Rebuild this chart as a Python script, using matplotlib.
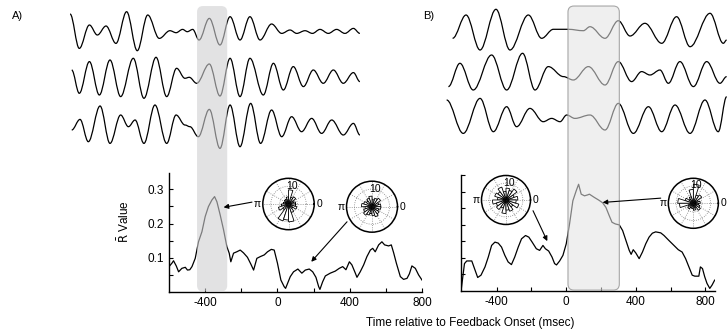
import numpy as np
import matplotlib
matplotlib.use('Agg')
import matplotlib.pyplot as plt
from matplotlib.path import Path
from matplotlib.patches import PathPatch, FancyBboxPatch, FancyArrowPatch
from matplotlib.transforms import IdentityTransform

plt.rcParams['font.family'] = ['Liberation Sans', 'DejaVu Sans']
plt.rcParams['axes.unicode_minus'] = False

# ---- R value curves (time re. feedback onset, ms) ----
time_a = [-600, -584, -575, -560, -547, -529, -510, -498, -485, -473, -455, -437, -418, -400,
          -382, -363, -348, -335, -317, -298, -280, -267, -258, -243, -225, -206, -188, -166,
          -147, -132, -114, -95, -73, -55, -34, -18, 0, 19, 37, 45, 71, 89, 113, 135, 154,
          176, 195, 213, 228, 235, 250, 265, 292, 320, 342, 361, 379, 398, 412, 431, 440, 458,
          477, 495, 514, 527, 541, 560, 578, 593, 615, 630, 643, 658, 680, 698, 717, 730, 744,
          763, 781, 800]
rval_a = [0.075, 0.085, 0.092, 0.077, 0.060, 0.070, 0.073, 0.065, 0.066, 0.075, 0.099, 0.147,
          0.176, 0.220, 0.249, 0.268, 0.278, 0.263, 0.225, 0.181, 0.133, 0.114, 0.089, 0.114,
          0.118, 0.123, 0.115, 0.102, 0.082, 0.065, 0.099, 0.104, 0.109, 0.118, 0.125, 0.123,
          0.085, 0.036, 0.017, 0.012, 0.046, 0.060, 0.068, 0.056, 0.065, 0.068, 0.060, 0.044,
          0.017, 0.009, 0.031, 0.048, 0.056, 0.062, 0.070, 0.075, 0.066, 0.089, 0.080, 0.056,
          0.044, 0.060, 0.080, 0.104, 0.123, 0.128, 0.118, 0.138, 0.147, 0.138, 0.135, 0.138,
          0.115, 0.085, 0.046, 0.038, 0.041, 0.054, 0.077, 0.070, 0.051, 0.036]

time_b = [-604, -585, -572, -543, -524, -509, -490, -467, -448, -429, -410, -391, -372, -353,
          -334, -315, -296, -276, -257, -234, -215, -196, -172, -153, -134, -120, -101, -82,
          -67, -56, -38, -19, 0, 19, 38, 57, 71, 86, 105, 124, 133, 162, 187, 209, 228, 247,
          263, 282, 305, 324, 343, 362, 373, 385, 400, 419, 438, 457, 476, 495, 514, 543, 562,
          590, 619, 644, 666, 686, 705, 724, 739, 762, 771, 783, 796, 809, 825, 838, 853]
rval_b = [0.002, 0.082, 0.090, 0.090, 0.062, 0.040, 0.047, 0.072, 0.102, 0.137, 0.147, 0.144,
          0.132, 0.107, 0.087, 0.079, 0.102, 0.132, 0.157, 0.167, 0.162, 0.147, 0.127, 0.122,
          0.137, 0.127, 0.120, 0.102, 0.082, 0.078, 0.090, 0.107, 0.142, 0.202, 0.272, 0.302,
          0.322, 0.292, 0.287, 0.290, 0.292, 0.282, 0.274, 0.266, 0.252, 0.227, 0.207, 0.202,
          0.199, 0.182, 0.152, 0.122, 0.110, 0.124, 0.114, 0.097, 0.117, 0.142, 0.162, 0.174,
          0.178, 0.175, 0.167, 0.152, 0.137, 0.124, 0.117, 0.097, 0.072, 0.047, 0.044, 0.044,
          0.072, 0.067, 0.042, 0.022, 0.007, 0.017, 0.032]

# highlighted windows (ms)
band_a = (-445, -278)
band_b = (10, 305)

# ---- example filtered traces: extrema times (ms) and amplitudes ----
trace_a1_t = [-1147, -1096, -1040, -996, -948, -893, -834, -775, -717, -653, -594, -560, -524,
              -498, -468, -433, -376, -317, -261, -206, -151, -95, -31, 25, 71, 108, 154, 195,
              237, 283, 329, 375, 422, 458]
trace_a1_v = [17.7, -16.7, 6.7, -3.3, 5.7, -11.7, 20, -19, 16.7, -6.7, 1, -1, 2.3, 0, 2.3,
              -8.3, 13.3, -13.3, 15, -8.3, 15, -8.3, 7.7, -1.7, 1.7, -1.7, 1, -1.7, 2.3, -1.7,
              2.3, -1.7, 3.3, -1.7]
trace_a2_t = [-1138, -1096, -1040, -985, -926, -867, -797, -738, -671, -612, -557, -511, -487,
              -446, -376, -317, -261, -206, -151, -77, -21, 34, 89, 145, 200, 255, 311, 366,
              422, 458]
trace_a2_v = [8.3, -15, 16.7, -16.7, 18.3, -18.3, 20, -20, 21, -18.3, 10, 0, 1, -5, 14.3,
              -17.7, 20, -18.3, 20, -16.7, 15, -11.7, 11.7, -8.3, 8.3, -5, 8.3, -5, 5.7, -3.3]
trace_a3_t = [-1138, -1092, -1046, -981, -926, -867, -824, -787, -738, -677, -612, -560, -511,
              -483, -437, -376, -317, -261, -206, -147, -92, -31, 25, 80, 135, 191, 246, 302,
              366, 422, 458]
trace_a3_v = [-3.3, 7.3, -15, 20.7, -16.7, 11.7, 0, 6.7, -16.7, 21.7, -16.7, 11.7, 1.7, 0,
              -10, 17.3, -21.7, 21.7, -20, 23.3, -16.7, 16.7, -10, 10, -5, 8.3, -6.7, 6.7,
              -8.3, 3.3, -8.3]

trace_b1_t = [-652, -575, -495, -404, -324, -219, -143, -76, 9, 95, 133, 219, 295, 362, 447,
              543, 628, 705, 819, 895, 914]
trace_b1_v = [-8.3, 15, -20, 20.7, -20, 15, -8.3, 0.7, 0.7, -0.7, 3.3, -8.3, 9.3, -6, 6.7,
              -13.3, 13.3, -16.7, 16.7, -13.3, -10]
trace_b2_t = [-676, -610, -534, -429, -343, -252, -181, -105, -19, 38, 124, 219, 295, 371,
              428, 476, 533, 581, 647, 724, 800, 876, 914]
trace_b2_v = [-13.3, 10, -16.7, 18.3, -16.7, 20, -16.7, 6.7, -3.3, -6.7, 6.7, -11.7, 11.7,
              -8.3, 1.7, -1.7, 3.3, -10, 11.7, -13.3, 11.7, -10, -3.3]
trace_b3_t = [-686, -591, -495, -419, -343, -286, -210, -134, -86, -38, 0, 47, 133, 219, 295,
              381, 467, 543, 619, 705, 790, 866, 914]
trace_b3_v = [16.7, -16.7, 18.3, -15, 10, -10, 8.3, -5, -1.7, -5, 1.7, -1.7, 1.7, -13.3,
              13.3, -16.7, 10, -15, 11.7, -16.7, 16.7, -15, 20]

# ---- phase distributions (rose plots, 20 bins) ----
rose_a1 = [4, 3, 5, 4, 8, 4, 3, 3, 2, 3, 4, 6, 4, 10, 9, 10, 5, 3, 5, 4]
rose_a2 = [5, 4, 6, 5, 4, 6, 5, 4, 5, 6, 4, 5, 6, 5, 4, 5, 6, 5, 4, 5]
rose_b1 = [7, 5, 8, 6, 7, 5, 8, 6, 7, 5, 8, 6, 7, 5, 8, 6, 7, 5, 8, 6]
rose_b2 = [4, 3, 6, 5, 11, 8, 4, 3, 5, 9, 8, 3, 4, 3, 3, 4, 3, 5, 4, 3]


def wave_path(t, v, offset):
    # smooth curve through the extrema (horizontal tangent at each one)
    verts = [(t[0], v[0] + offset)]
    codes = [Path.MOVETO]
    for i in range(len(t) - 1):
        dx = t[i + 1] - t[i]
        verts += [(t[i] + 0.36 * dx, v[i] + offset),
                  (t[i + 1] - 0.36 * dx, v[i + 1] + offset),
                  (t[i + 1], v[i + 1] + offset)]
        codes += [Path.CURVE4] * 3
    return Path(verts, codes)


fig = plt.figure(figsize=(7.27, 3.35), dpi=100)

# trace axes
sig_a = fig.add_axes([0.0825, 0.5224, 0.498, 0.4776])
sig_a.set_xlim(-1203, 802)
sig_b = fig.add_axes([0.6052, 0.5224, 0.3948, 0.4776])
sig_b.set_xlim(-724, 916)
for sax in (sig_a, sig_b):
    sax.set_ylim(-160, 0)
    sax.axis('off')

for t, v, off in [(trace_a1_t, trace_a1_v, -31.7), (trace_a2_t, trace_a2_v, -78.3),
                  (trace_a3_t, trace_a3_v, -126.7)]:
    sig_a.add_patch(PathPatch(wave_path(t, v, off), fill=False, lw=0.9, color='black'))
for t, v, off in [(trace_b1_t, trace_b1_v, -30), (trace_b2_t, trace_b2_v, -73.3),
                  (trace_b3_t, trace_b3_v, -116.7)]:
    sig_b.add_patch(PathPatch(wave_path(t, v, off), fill=False, lw=0.9, color='black'))

# R value axes
ax_a = fig.add_axes([0.2325, 0.1269, 0.348, 0.3552])
ax_b = fig.add_axes([0.6341, 0.1322, 0.3494, 0.3454])
ax_a.plot(time_a, rval_a, color='black', lw=0.9)
ax_b.plot(time_b, rval_b, color='black', lw=0.9)
ax_a.set_xlim(-600, 800)
ax_a.set_ylim(0, 0.345)
ax_b.set_xlim(-605, 855)
ax_b.set_ylim(0, 0.35)

for ax in (ax_a, ax_b):
    for s in ('top', 'right'):
        ax.spines[s].set_visible(False)
    ax.spines['left'].set_linewidth(1.0)
    ax.spines['bottom'].set_linewidth(1.0)
    ax.set_xticks([-400, 0, 400, 800])
    ax.set_xticks([-200, 200, 600], minor=True)
    ax.tick_params(which='both', direction='in', length=3, width=0.8, labelsize=8.5, pad=3.5)

ax_a.set_yticks([0.1, 0.2, 0.3])
ax_a.set_yticks([0.05, 0.15, 0.25], minor=True)
ax_b.set_yticks([0.05, 0.1, 0.15, 0.2, 0.25, 0.3, 0.35])
ax_b.set_yticklabels([])
ax_a.set_ylabel(r'$\bar{\mathrm{R}}$ Value', fontsize=8.5)
ax_a.yaxis.set_label_coords(-0.147, 0.6)

# rose plot insets
insets = [([0.3615, 0.3143, 0.0707, 0.1534], rose_a1),
          ([0.4766, 0.3069, 0.0702, 0.1522], rose_a2),
          ([0.6623, 0.3299, 0.0674, 0.1463], rose_b1),
          ([0.9193, 0.3185, 0.0688, 0.1493], rose_b2)]
nb = 20
centers = np.arange(nb) * 2 * np.pi / nb + np.pi / nb
for pos, counts in insets:
    pax = fig.add_axes(pos, projection='polar')
    pax.bar(centers, counts, width=2 * np.pi / nb, facecolor='white', edgecolor='black',
            lw=0.6, zorder=3)
    pax.set_ylim(0, 14.5)
    pax.set_thetagrids(range(0, 360, 30), labels=[])
    pax.set_rgrids([5, 10], labels=[])
    pax.grid(True, linestyle=':', color='0.5', lw=0.6)
    pax.spines['polar'].set_linewidth(1.1)
    pax.text(np.deg2rad(80), 10.5, '10', fontsize=7.5, ha='center', va='center', zorder=4)
    pax.text(0, 15.6, '0', fontsize=7.5, ha='left', va='center')
    pax.text(np.pi, 15.6, 'π', fontsize=7.5, ha='right', va='center')

# translucent highlight bands over traces and curves
for ax, (t0, t1), bottom, fc, ec in [
        (ax_a, band_a, 0.130, (0.81, 0.81, 0.82, 0.6), 'none'),
        (ax_b, band_b, 0.134, (0.89, 0.89, 0.89, 0.56), (0.62, 0.62, 0.62, 0.9))]:
    x0, x1 = ax.transData.transform([(t0, 0), (t1, 0)])[:, 0]
    y0, y1 = fig.transFigure.transform([(0, bottom), (0, 0.982)])[:, 1]
    band = FancyBboxPatch((x0, y0), x1 - x0, y1 - y0, boxstyle='round,pad=0,rounding_size=6',
                          transform=IdentityTransform(), facecolor=fc, edgecolor=ec, lw=0.8,
                          zorder=5)
    fig.add_artist(band)

# arrows from the rose plots to the curves (drawn above the bands)
arrows = [(ax_a, (-141, 0.262), (-298, 0.247)),
          (ax_a, (385, 0.205), (187, 0.089)),
          (ax_b, (-191, 0.242), (-109, 0.150)),
          (ax_b, (543, 0.280), (209, 0.267))]
for ax, tail, head in arrows:
    p0, p1 = ax.transData.transform([tail, head])
    fig.add_artist(FancyArrowPatch(p0, p1, transform=IdentityTransform(), arrowstyle='-|>',
                                   mutation_scale=7, lw=0.8, color='black',
                                   shrinkA=0, shrinkB=0, zorder=6))

fig.text(0.024, 0.952, 'A)', fontsize=8, ha='center', va='center')
fig.text(0.589, 0.952, 'B)', fontsize=8, ha='center', va='center')
fig.text(0.6465, 0.036, 'Time relative to Feedback Onset (msec)', fontsize=8.5,
         ha='center', va='center')

fig.savefig('out.png', dpi=100)
